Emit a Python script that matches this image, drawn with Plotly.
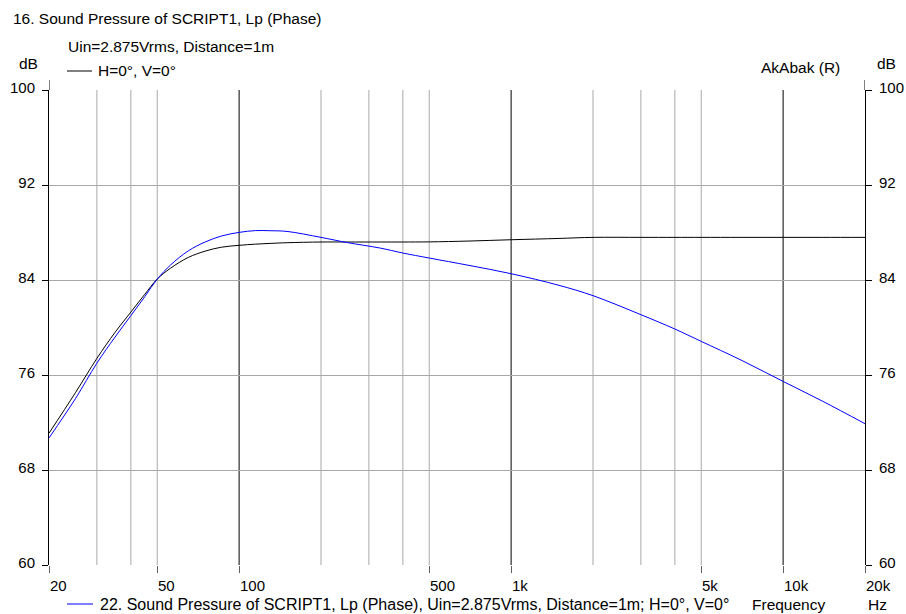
import numpy as np
import plotly.graph_objects as go

# Frequency points (Hz) and sound pressure levels (dB)
freq_hz = [20, 25, 30, 35, 40, 45, 50, 56, 65, 75, 86, 100, 115, 130, 150, 200,
           250, 330, 400, 500, 700, 1000, 1500, 2000, 3000, 4000, 5000, 7000,
           10000, 14000, 20000]
lp_h0v0 = [71.1, 74.5, 77.4, 79.6, 81.3, 82.8, 84.08, 85.0, 85.9, 86.43, 86.76,
           86.92, 87.02, 87.08, 87.14, 87.2, 87.2, 87.2, 87.2, 87.21, 87.28, 87.39,
           87.5, 87.59, 87.59, 87.59, 87.59, 87.59, 87.59, 87.59, 87.59]
lp_script22 = [70.7, 74.0, 77.0, 79.2, 81.0, 82.6, 84.08, 85.27, 86.45, 87.2, 87.7,
               88.01, 88.16, 88.15, 88.09, 87.59, 87.15, 86.69, 86.27, 85.85, 85.23,
               84.53, 83.55, 82.68, 81.08, 79.87, 78.83, 77.26, 75.46, 73.78, 71.9]

# Axis definitions
grid_hz = [30, 40, 50, 200, 300, 400, 500, 2000, 3000, 4000, 5000]
decade_hz = [100, 1000, 10000]
xtick_hz = [20, 50, 100, 500, 1000, 5000, 10000, 20000]
xtick_text = ["20", "50", "100", "500", "1k", "5k", "10k", "20k"]
ytick_db = [60, 68, 76, 84, 92, 100]

FONT = "Liberation Sans, Arial, sans-serif"
W, H = 906, 614
L, R, T, B = 49, 41, 90, 49
PW, PH = W - L - R, H - T - B


def px(x):
    return (x - L) / PW


def py(y):
    return (H - B - y) / PH


fig = go.Figure()
fig.add_trace(go.Scatter(
    x=freq_hz, y=lp_h0v0, mode="lines",
    line=dict(color="#000000", width=1, shape="spline", smoothing=1),
    showlegend=False, hoverinfo="skip"))
fig.add_trace(go.Scatter(
    x=freq_hz, y=lp_script22, mode="lines", yaxis="y2",
    line=dict(color="#0000ff", width=1, shape="spline", smoothing=1),
    showlegend=False, hoverinfo="skip"))

shapes = []
for f in grid_hz:
    shapes.append(dict(type="line", xref="x", yref="paper", x0=f, x1=f, y0=0, y1=1,
                       line=dict(color="#a8a8a8", width=1), layer="below"))
for f in decade_hz:
    shapes.append(dict(type="line", xref="x", yref="paper", x0=f, x1=f, y0=0, y1=1,
                       line=dict(color="#000000", width=1), layer="below"))
# axis lines poke a little above the top gridline
for f in (xtick_hz[0], xtick_hz[-1]):
    shapes.append(dict(type="line", xref="x", yref="paper", x0=f, x1=f,
                       y0=1, y1=1 + 10 / PH, line=dict(color="#000000", width=1)))
# legend swatches
shapes.append(dict(type="line", xref="paper", yref="paper", x0=px(67), x1=px(92),
                   y0=py(71), y1=py(71), line=dict(color="#000000", width=1)))
shapes.append(dict(type="line", xref="paper", yref="paper", x0=px(67), x1=px(93),
                   y0=py(604), y1=py(604), line=dict(color="#0000ff", width=1)))

annotations = []
for f, t in zip(xtick_hz, xtick_text):
    annotations.append(dict(x=np.log10(f), y=0, xref="x", yref="paper", text=t,
                            showarrow=False, xanchor="left", yanchor="top",
                            xshift=-1, yshift=-10,
                            font=dict(family=FONT, size=15, color="#000000")))


def label(text, x, y, anchor="left", size=15.5):
    annotations.append(dict(x=px(x), y=py(y), xref="paper", yref="paper", text=text,
                            showarrow=False, xanchor=anchor, yanchor="middle",
                            font=dict(family=FONT, size=size, color="#000000")))


label("16. Sound Pressure of SCRIPT1, Lp (Phase)", 11, 18)
label("Uin=2.875Vrms, Distance=1m", 66, 46)
label("dB", 17, 63)
label("H=0°, V=0°", 96, 71)
label("AkAbak (R)", 759, 68)
label("dB", 875, 63)
label("22. Sound Pressure of SCRIPT1, Lp (Phase), Uin=2.875Vrms, Distance=1m; H=0°, V=0°",
      98, 604, size=16)
label("Frequency", 750, 604)
label("Hz", 866, 604)

yaxis_common = dict(
    range=[60, 100], tickvals=ytick_db, ticktext=[str(v) for v in ytick_db],
    ticks="outside", ticklen=6, tickcolor="#000000", showgrid=True,
    gridcolor="#a8a8a8", gridwidth=1, showline=True, linecolor="#000000",
    linewidth=1, zeroline=False, tickfont=dict(family=FONT, size=15, color="#000000"),
    ticklabelshift=-2, automargin=False, fixedrange=True)

fig.update_layout(
    width=W, height=H, autosize=False,
    margin=dict(l=L, r=R, t=T, b=B, pad=0),
    paper_bgcolor="white", plot_bgcolor="white",
    showlegend=False,
    xaxis=dict(type="log", range=[np.log10(20), np.log10(20000)],
               showgrid=False, zeroline=False, showline=False,
               tickvals=xtick_hz, ticks="outside", ticklen=7, tickcolor="#606060",
               showticklabels=False, automargin=False, fixedrange=True),
    yaxis=dict(**yaxis_common, side="left", ticklabelstandoff=4),
    yaxis2=dict(**yaxis_common, side="right", overlaying="y", ticklabelstandoff=4),
    shapes=shapes,
    annotations=annotations,
)

fig.write_html("out.html")
